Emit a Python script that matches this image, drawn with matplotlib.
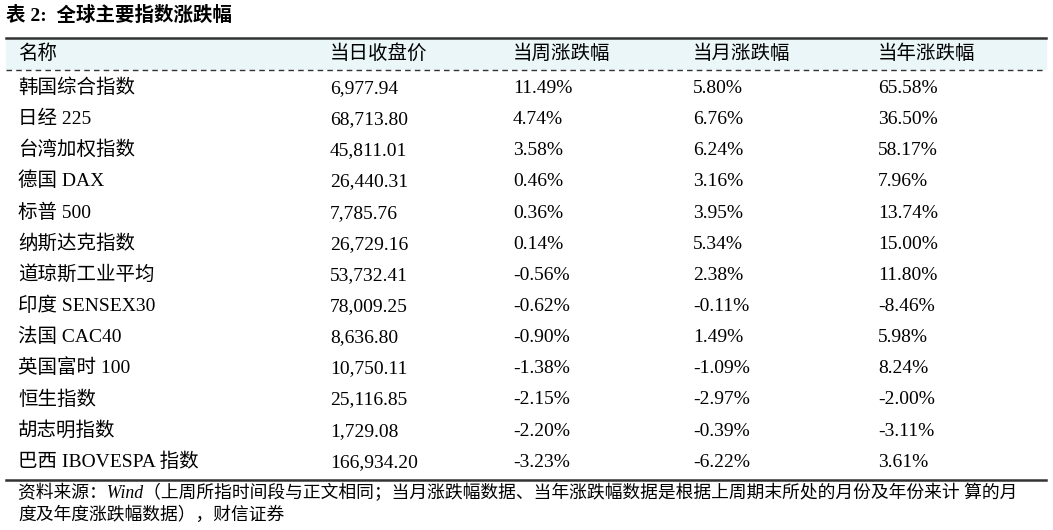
import matplotlib
matplotlib.use("Agg")
import matplotlib.pyplot as plt
from matplotlib.patches import Rectangle

title = "表 2:  全球主要指数涨跌幅"
headers = ["名称", "当日收盘价", "当周涨跌幅", "当月涨跌幅", "当年涨跌幅"]
names = ["韩国综合指数", "日经 225", "台湾加权指数", "德国 DAX", "标普 500", "纳斯达克指数",
         "道琼斯工业平均", "印度 SENSEX30", "法国 CAC40", "英国富时 100", "恒生指数",
         "胡志明指数", "巴西 IBOVESPA 指数"]
close = ["6,977.94", "68,713.80", "45,811.01", "26,440.31", "7,785.76", "26,729.16",
         "53,732.41", "78,009.25", "8,636.80", "10,750.11", "25,116.85", "1,729.08", "166,934.20"]
week = ["11.49%", "4.74%", "3.58%", "0.46%", "0.36%", "0.14%", "-0.56%", "-0.62%",
        "-0.90%", "-1.38%", "-2.15%", "-2.20%", "-3.23%"]
month = ["5.80%", "6.76%", "6.24%", "3.16%", "3.95%", "5.34%", "2.38%", "-0.11%",
         "1.49%", "-1.09%", "-2.97%", "-0.39%", "-6.22%"]
year = ["65.58%", "36.50%", "58.17%", "7.96%", "13.74%", "15.00%", "11.80%", "-8.46%",
        "5.98%", "8.24%", "-2.00%", "-3.11%", "3.61%"]
source = ["资料来源：Wind（上周所指时间段与正文相同；当月涨跌幅数据、当年涨跌幅数据是根据上周期末所处的月份及年份来计 算的月",
          "度及年度涨跌幅数据），财信证券"]

fam = ["Liberation Serif", "Noto Sans CJK SC", "DejaVu Sans"]
W, H = 1053, 530
fig = plt.figure(figsize=(W/100, H/100), dpi=100)
ax = fig.add_axes([0, 0, 1, 1])
ax.set_xlim(0, W); ax.set_ylim(H, 0); ax.axis("off")

colx = [18, 330, 513, 693, 878]
ax.text(6, 21, title, family=fam, fontsize=14, fontweight="bold", va="baseline")
ax.add_patch(Rectangle((6, 38), 1040, 31, color="#EAF6F8", zorder=0))
ax.plot([6, 1046], [37.5, 37.5], color="#333333", lw=1.8)
ax.plot([6, 1046], [69.5, 69.5], color="#333333", lw=1, ls=(0, (4, 3)))
for x, h in zip(colx, headers):
    ax.text(x, 59, h, family=fam, fontsize=14, va="baseline")
cols = [names, close, week, month, year]
for i in range(len(names)):
    y = 93 + i * 31.15
    for x, c in zip(colx, cols):
        ax.text(x, y, c[i], family=fam, fontsize=14, va="baseline")
ax.plot([6, 1046], [479.5, 479.5], color="#333333", lw=1.8)
for j, s in enumerate(source):
    ax.text(18, 498 + j * 22, s, family=fam, fontsize=12.8, style="italic", va="baseline")
fig.savefig("out.png", dpi=100)
